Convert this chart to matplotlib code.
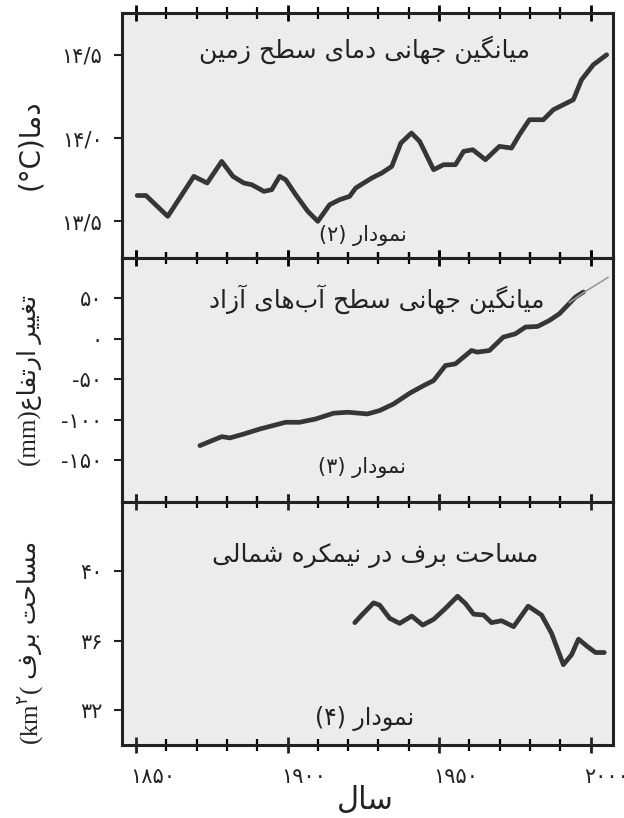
import numpy as np
import matplotlib
matplotlib.use("Agg")
import matplotlib.pyplot as plt
from matplotlib.transforms import ScaledTranslation

# --- data ---
temp_years = [1850.4, 1853.3, 1860.5, 1869.1, 1873.5, 1878.3, 1882.0, 1885.6, 1888.2, 1892.2,
              1894.8, 1897.4, 1899.4, 1902.7, 1906.7, 1910.0, 1913.9, 1917.2, 1920.5, 1922.5,
              1927.8, 1931.1, 1934.4, 1937.4, 1940.9, 1943.6, 1948.2, 1951.5, 1955.4, 1958.1,
              1961.1, 1965.3, 1969.9, 1973.9, 1976.5, 1979.8, 1984.4, 1987.7, 1994.3, 1997.0,
              2000.9, 2005.3]
temp_vals = [13.655, 13.655, 13.53, 13.77, 13.73, 13.86, 13.77, 13.73, 13.72, 13.68,
             13.69, 13.77, 13.75, 13.66, 13.56, 13.50, 13.60, 13.63, 13.65, 13.70,
             13.76, 13.79, 13.83, 13.97, 14.03, 13.98, 13.81, 13.84, 13.84, 13.92,
             13.93, 13.87, 13.95, 13.94, 14.02, 14.11, 14.11, 14.17, 14.23, 14.35,
             14.44, 14.50]

sea_years = [1871.1, 1878.3, 1881.0, 1885.6, 1890.9, 1899.4, 1904.0, 1909.3, 1915.2, 1919.9,
             1926.4, 1930.4, 1935.0, 1940.3, 1944.9, 1948.2, 1952.1, 1955.4, 1960.7, 1962.6,
             1966.6, 1971.2, 1975.2, 1978.5, 1982.5, 1986.4, 1989.7, 1995.0, 1997.6]
sea_vals = [-132.2, -121.1, -122.7, -117.8, -111.6, -103.3, -103.3, -99.2, -92.1, -90.9,
            -93.0, -88.8, -80.6, -67.4, -57.9, -51.7, -33.1, -31.0, -14.5, -16.5,
            -14.5, 2.1, 6.2, 14.5, 15.3, 22.7, 31.0, 51.7, 57.9]
sat_years = [1993.0, 1998.0, 2005.7]
sat_vals = [45.0, 57.9, 75.9]

snow_years = [1922.2, 1924.5, 1928.4, 1930.4, 1933.7, 1937.0, 1941.0, 1944.6, 1948.2, 1952.1,
              1956.1, 1958.7, 1961.4, 1964.7, 1967.3, 1970.6, 1974.6, 1979.4, 1983.8, 1987.1,
              1991.0, 1993.7, 1996.0, 1998.9, 2001.6, 2004.5]
snow_vals = [37.05, 37.49, 38.19, 38.06, 37.30, 37.01, 37.43, 36.91, 37.24, 37.87,
             38.57, 38.15, 37.54, 37.49, 37.05, 37.16, 36.82, 38.00, 37.49, 36.44,
             34.63, 35.20, 36.10, 35.68, 35.33, 35.33]

x_ticks = [1850, 1900, 1950, 2000]
x_ticklabels = ["۱۸۵۰", "۱۹۰۰", "۱۹۵۰", "۲۰۰۰"]
temp_ticks = [13.5, 14.0, 14.5]
temp_ticklabels = ["۱۳/۵", "۱۴/۰", "۱۴/۵"]
sea_ticks = [-150, -100, -50, 0, 50]
sea_ticklabels = ["-۱۵۰", "-۱۰۰", "-۵۰", "۰", "۵۰"]
snow_ticks = [32, 36, 40]
snow_ticklabels = ["۳۲", "۳۶", "۴۰"]


# --- tiny persian shaper (matplotlib has no arabic shaping) ---
FORMS = {
    'ا': (0xFE8D, 0xFE8E, None, None), 'آ': (0xFE81, 0xFE82, None, None),
    'ب': (0xFE8F, 0xFE90, 0xFE91, 0xFE92), 'ت': (0xFE95, 0xFE96, 0xFE97, 0xFE98),
    'ج': (0xFE9D, 0xFE9E, 0xFE9F, 0xFEA0), 'ح': (0xFEA1, 0xFEA2, 0xFEA3, 0xFEA4),
    'د': (0xFEA9, 0xFEAA, None, None), 'ر': (0xFEAD, 0xFEAE, None, None),
    'ز': (0xFEAF, 0xFEB0, None, None), 'س': (0xFEB1, 0xFEB2, 0xFEB3, 0xFEB4),
    'ش': (0xFEB5, 0xFEB6, 0xFEB7, 0xFEB8), 'ط': (0xFEC1, 0xFEC2, 0xFEC3, 0xFEC4),
    'ع': (0xFEC9, 0xFECA, 0xFECB, 0xFECC), 'غ': (0xFECD, 0xFECE, 0xFECF, 0xFED0),
    'ف': (0xFED1, 0xFED2, 0xFED3, 0xFED4), 'ل': (0xFEDD, 0xFEDE, 0xFEDF, 0xFEE0),
    'م': (0xFEE1, 0xFEE2, 0xFEE3, 0xFEE4), 'ن': (0xFEE5, 0xFEE6, 0xFEE7, 0xFEE8),
    'ه': (0xFEE9, 0xFEEA, 0xFEEB, 0xFEEC), 'و': (0xFEED, 0xFEEE, None, None),
    'ی': (0xFBFC, 0xFBFD, 0xFBFE, 0xFBFF), 'ک': (0xFB8E, 0xFB8F, 0xFB90, 0xFB91),
    'گ': (0xFB92, 0xFB93, 0xFB94, 0xFB95),
}


def rtl(text):
    chars = list(text)
    out = []
    for i, c in enumerate(chars):
        if c not in FORMS:
            if c != '\u200c':
                out.append(c)
            continue
        prev = chars[i - 1] if i > 0 else ''
        nxt = chars[i + 1] if i + 1 < len(chars) else ''
        join_prev = prev in FORMS and FORMS[prev][2] is not None
        join_next = FORMS[c][2] is not None and nxt in FORMS
        iso, fin, ini, med = FORMS[c]
        if join_prev and join_next:
            code = med
        elif join_prev:
            code = fin
        elif join_next:
            code = ini
        else:
            code = iso
        out.append(chr(code))
    return ''.join(reversed(out))


plt.rcParams['font.family'] = ['DejaVu Sans']
mixed = ['Liberation Serif', 'DejaVu Sans']

bg = '#ececec'
line_col = '#363636'
tc = '#222222'

fig = plt.figure(figsize=(6.24, 8.18), dpi=100)
left, width = 0.1955, 0.7865
ax1 = fig.add_axes([left, 0.6846, width, 0.2994])
ax2 = fig.add_axes([left, 0.3863, width, 0.2983])
ax3 = fig.add_axes([left, 0.0892, width, 0.2971])

kw = dict(color=line_col, lw=3.4, solid_capstyle='round', solid_joinstyle='round')
ax1.plot(temp_years, temp_vals, **kw)
ax2.plot(sea_years, sea_vals, **kw)
ax2.plot(sat_years, sat_vals, color='#9a9a9a', lw=1.2)
ax3.plot(snow_years, snow_vals, **kw)

ax1.set_ylim(13.28, 14.75)
ax2.set_ylim(-202, 100)
ax3.set_ylim(30, 44)

for ax, ticks, labels in [(ax1, temp_ticks, temp_ticklabels),
                          (ax2, sea_ticks, sea_ticklabels),
                          (ax3, snow_ticks, snow_ticklabels)]:
    ax.set_facecolor(bg)
    ax.set_xlim(1845.4, 2007.3)
    ax.set_xticks(x_ticks)
    ax.set_xticks(np.arange(1850, 2001, 10), minor=True)
    ax.set_yticks(ticks, labels)
    ax.tick_params(axis='y', direction='out', length=6, width=1.5, labelsize=15, pad=8, colors=tc)
    ax.tick_params(axis='x', which='major', direction='inout', length=12, width=2, top=True, bottom=True)
    ax.tick_params(axis='x', which='minor', direction='inout', length=8, width=1.6, top=True, bottom=True)
    ax.tick_params(axis='x', labelbottom=False)
    for s in ax.spines.values():
        s.set_linewidth(2.2)
        s.set_color(tc)

ax3.set_xticks(x_ticks, x_ticklabels)
ax3.tick_params(axis='x', labelbottom=True, labelsize=15, pad=10, colors=tc)
offset = ScaledTranslation(-0.06, 0, fig.dpi_scale_trans)
for lab in ax3.get_xticklabels():
    lab.set_horizontalalignment('left')
    lab.set_transform(lab.get_transform() + offset)

ax1.text(0.495, 0.85, rtl("میانگین جهانی دمای سطح زمین"), transform=ax1.transAxes,
         ha='center', va='center', fontsize=18, color=tc)
ax1.text(0.49, 0.09, "(۲) " + rtl("نمودار"), transform=ax1.transAxes,
         ha='center', va='center', fontsize=15, color=tc)
ax2.text(0.52, 0.83, rtl("میانگین جهانی سطح آب\u200cهای آزاد"), transform=ax2.transAxes,
         ha='center', va='center', fontsize=18, color=tc)
ax2.text(0.49, 0.14, "(۳) " + rtl("نمودار"), transform=ax2.transAxes,
         ha='center', va='center', fontsize=15, color=tc)
ax3.text(0.515, 0.78, rtl("مساحت برف در نیمکره شمالی"), transform=ax3.transAxes,
         ha='center', va='center', fontsize=18, color=tc)
ax3.text(0.495, 0.11, "(۴) " + rtl("نمودار"), transform=ax3.transAxes,
         ha='center', va='center', fontsize=17, color=tc)

fig.text(0.048, 0.823, "(°C)" + rtl("دما"), rotation=90, ha='center', va='center',
         fontsize=20, color=tc)
fig.text(0.048, 0.535, "(mm)" + rtl("تغییر ارتفاع"), rotation=90, ha='center', va='center',
         fontsize=18, color=tc, family=mixed)
# snow label in two pieces: serif unit with persian superscript, then persian words
km = fig.text(0.048, 0.089, "(km$^{۲}$(", rotation=90, ha='center', va='bottom',
              fontsize=18, color=tc, family='Liberation Serif')
ax3.annotate(rtl("مساحت برف"), xy=(0.5, 1.0), xycoords=km, xytext=(0, 4),
             textcoords='offset points', rotation=90, ha='center', va='bottom',
             fontsize=18, color=tc, annotation_clip=False)
fig.text(0.585, 0.022, rtl("سال"), ha='center', va='center', fontsize=22, color=tc)

fig.savefig("out.png", dpi=100)
